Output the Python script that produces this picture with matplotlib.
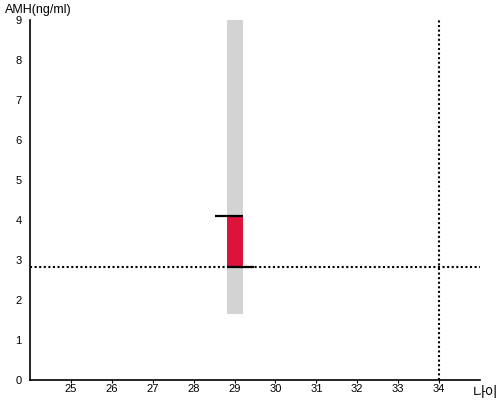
import matplotlib
matplotlib.use("Agg")
import matplotlib.pyplot as plt

plt.rcParams['font.family'] = ['Liberation Sans', 'Noto Sans CJK KR', 'DejaVu Sans']

# data
age = 29
range_low, range_high = 1.65, 9.0
value_low, value_high = 2.83, 4.1
ref_age = 34
ref_amh = 2.83
x_ticks = [25, 26, 27, 28, 29, 30, 31, 32, 33, 34]
y_ticks = [0, 1, 2, 3, 4, 5, 6, 7, 8, 9]

fig = plt.figure(figsize=(5, 4), dpi=100)
ax = fig.add_axes([0.06, 0.05, 0.90, 0.90])
ax.set_xlim(24, 35)
ax.set_ylim(0, 9)

bw = 0.39
ax.bar([age], [range_high - range_low], bottom=[range_low], width=bw, color='#d3d3d3', zorder=1)
ax.bar([age], [value_high - value_low], bottom=[value_low], width=bw, color='#dc143c', zorder=2)
ax.plot([age - bw/2 - 0.29, age + bw/2], [value_high, value_high], color='black', lw=1.6, solid_capstyle='butt', zorder=4)
ax.plot([age - bw/2, age + bw/2 + 0.29], [value_low, value_low], color='black', lw=1.6, solid_capstyle='butt', zorder=4)

ax.axhline(ref_amh, color='black', lw=1.5, linestyle=(0, (1, 1.2)), zorder=3)
ax.plot([ref_age, ref_age], [0, 9], color='black', lw=1.5, linestyle=(0, (1, 1.2)), zorder=3)

ax.set_xticks(x_ticks)
ax.set_yticks(y_ticks)
ax.tick_params(axis='x', length=2, labelsize=8, pad=1)
ax.tick_params(axis='y', length=0, labelsize=8, pad=6)
for s in ['top', 'right']:
    ax.spines[s].set_visible(False)
for s in ['left', 'bottom']:
    ax.spines[s].set_linewidth(1.2)

fig.text(0.01, 0.975, 'AMH(ng/ml)', fontsize=9, va='center', ha='left')
fig.text(0.945, 0.018, '나이', fontsize=10, va='center', ha='left')

fig.savefig('out.png', dpi=100)
